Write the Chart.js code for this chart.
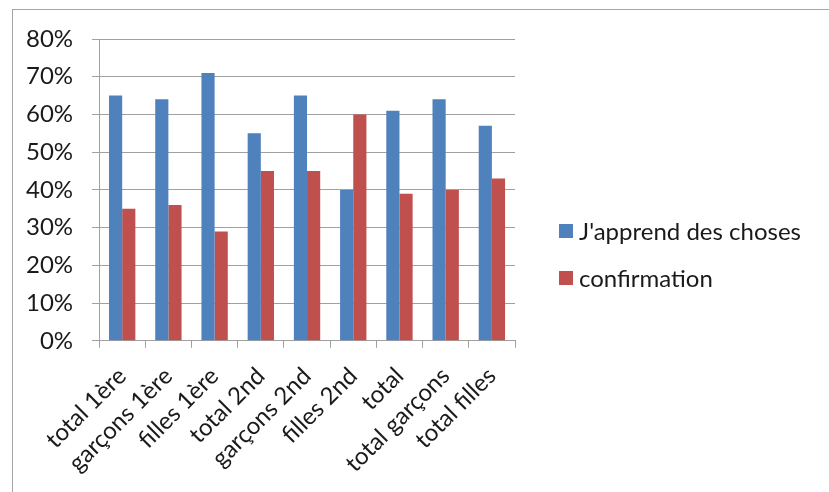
<!DOCTYPE html>
<html>
<head>
<meta charset="utf-8">
<script src="https://cdn.jsdelivr.net/npm/chart.js@4"></script>
<style>
  html, body { margin: 0; padding: 0; background: #fff; }
  #frame { position: absolute; left: 12px; top: 9px; width: 830px; height: 500px; border-left: 1px solid #a6a6a6; border-top: 1px solid #a6a6a6; }
  #wrap { position: absolute; left: 0; top: 0; width: 829px; height: 492px; }
</style>
</head>
<body>
<div id="frame"></div>
<div id="wrap"><canvas id="chart" width="829" height="492"></canvas></div>
<script>
// categories and series
const categories = ['total 1ère', 'garçons 1ère', 'filles 1ère', 'total 2nd', 'garçons 2nd', 'filles 2nd', 'total', 'total garçons', 'total filles'];
const apprend = [65, 64, 71, 55, 65, 40, 61, 64, 57];
const confirmation = [35, 36, 29, 45, 45, 60, 39, 40, 43];
const seriesNames = ["J'apprend des choses", 'confirmation'];

const fontFamily = 'Lato, "Open Sans", sans-serif';
const fontSize = 24;

// legend drawn at the right, spaced like the original
const sideLegend = {
    id: 'sideLegend',
    afterDraw(chart) {
        const c = chart.ctx;
        c.save();
        c.font = fontSize + 'px ' + fontFamily;
        c.textBaseline = 'middle';
        chart.data.datasets.forEach(function(ds, i) {
            const y = 231 + i * 47;
            c.fillStyle = ds.backgroundColor;
            c.fillRect(559, y - 7, 14, 14);
            c.fillStyle = '#1a1a1a';
            c.fillText(ds.label, 579, y + 1);
        });
        c.restore();
    }
};

const ctx = document.getElementById('chart').getContext('2d');
new Chart(ctx, {
    type: 'bar',
    data: {
        labels: categories,
        datasets: [{
            label: seriesNames[0],
            data: apprend,
            backgroundColor: '#4f81bd',
            borderWidth: 0,
            categoryPercentage: 0.57,
            barPercentage: 1.0
        }, {
            label: seriesNames[1],
            data: confirmation,
            backgroundColor: '#c0504d',
            borderWidth: 0,
            categoryPercentage: 0.57,
            barPercentage: 1.0
        }]
    },
    options: {
        responsive: false,
        animation: false,
        layout: { padding: { left: 7, top: 39, right: 314, bottom: 0 } },
        scales: {
            x: {
                offset: true,
                grid: { display: true, drawOnChartArea: false, offset: true, tickLength: 7, color: '#a0a0a0' },
                border: { color: '#a0a0a0', width: 1 },
                ticks: { color: '#1a1a1a', font: { family: fontFamily, size: fontSize }, minRotation: 45, maxRotation: 45, padding: 14, autoSkip: false }
            },
            y: {
                min: 0,
                max: 80,
                ticks: { stepSize: 10, color: '#1a1a1a', font: { family: fontFamily, size: fontSize }, padding: 19,
                    callback: function(v) { return v + '%'; } },
                grid: { color: '#a0a0a0', lineWidth: 1, tickLength: 7 },
                border: { color: '#a0a0a0', width: 1 }
            }
        },
        plugins: {
            legend: { display: false },
            tooltip: { enabled: false }
        }
    },
    plugins: [sideLegend]
});
</script>
</body>
</html>
